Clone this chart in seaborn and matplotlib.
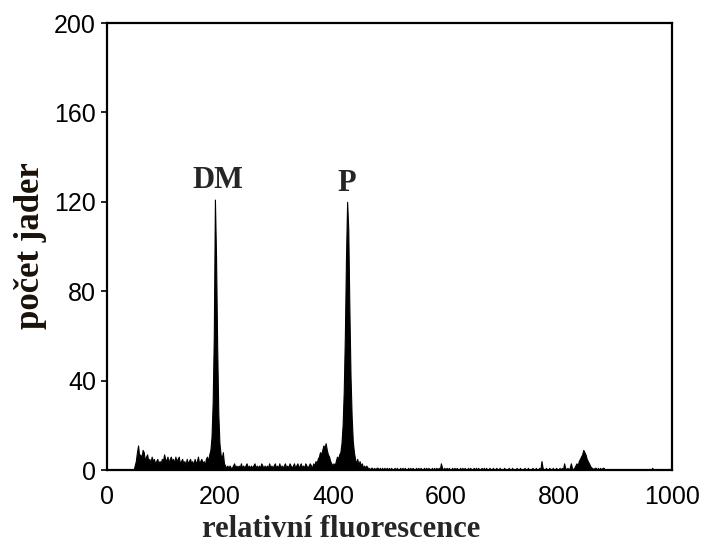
import numpy as np
import pandas as pd
import matplotlib
matplotlib.use("Agg")
import matplotlib.pyplot as plt
import seaborn as sns

# Nuclei counts per fluorescence channel (channel width 2), one row per 100 channels
counts_000 = [0, 0, 0, 0, 0, 0, 0, 0, 0, 0, 0, 0, 0, 0, 0, 0, 0, 0, 0, 0, 0, 0, 0, 0,
              2, 4, 8, 11, 6, 7, 5, 9, 8, 4, 6, 7, 4, 5, 3, 6, 4, 5, 3, 4, 5, 3, 4, 3, 5, 4]
counts_100 = [7, 5, 4, 6, 3, 5, 6, 4, 5, 3, 6, 4, 5, 6, 3, 4, 5, 3, 4, 2,
              5, 3, 4, 5, 3, 4, 2, 5, 3, 4, 6, 3, 4, 5, 3, 4, 2, 5, 6, 4,
              7, 9, 15, 30, 60, 121, 95, 55, 25, 12]
counts_200 = [7, 5, 8, 3, 2, 1, 2, 1, 2, 1, 1, 2, 3, 1, 2, 1, 2, 1, 3, 1,
              2, 1, 2, 3, 1, 2, 1, 2, 1, 2, 3, 1, 2, 1, 2, 1, 3, 2, 1, 2,
              1, 2, 1, 3, 1, 2, 1, 2, 3, 1]
counts_300 = [2, 1, 3, 1, 2, 1, 2, 3, 1, 2, 1, 3, 2, 1, 2, 3, 1, 2, 3, 1,
              2, 3, 1, 2, 1, 3, 2, 1, 2, 3, 2, 1, 3, 2, 4, 3, 5, 6, 8, 7,
              9, 11, 10, 12, 9, 7, 6, 4, 3, 2]
counts_400 = [3, 2, 4, 6, 5, 7, 8, 12, 20, 35, 60, 95, 120, 108, 72, 42, 24, 13, 8, 5,
              3, 5, 2, 4, 2, 3, 1, 2, 1, 2, 1, 1, 0, 1, 1, 0, 1, 0, 1, 1,
              0, 1, 0, 1, 0, 1, 0, 1, 0, 1]
counts_500 = [0, 1, 0, 0, 1, 0, 1, 0, 0, 1, 0, 1, 0, 1, 0, 0, 1, 0, 1, 0,
              1, 0, 0, 1, 0, 1, 0, 1, 0, 0, 1, 0, 1, 0, 1, 0, 0, 1, 0, 1,
              0, 1, 0, 1, 0, 3, 1, 0, 1, 0]
counts_600 = [1, 0, 1, 0, 0, 1, 0, 1, 0, 1, 0, 0, 1, 0, 1, 0, 1, 0, 0, 1,
              0, 1, 0, 0, 1, 0, 1, 0, 1, 0, 0, 1, 0, 1, 0, 1, 0, 0, 1, 0,
              0, 1, 0, 0, 1, 0, 0, 1, 0, 0]
counts_700 = [0, 1, 0, 0, 0, 1, 0, 0, 1, 0, 0, 0, 1, 0, 0, 1, 0, 0, 0, 1,
              0, 0, 1, 0, 0, 0, 1, 0, 0, 1, 0, 0, 1, 0, 4, 1, 0, 0, 1, 0,
              0, 1, 0, 0, 1, 0, 0, 1, 0, 0]
counts_800 = [1, 0, 1, 0, 3, 1, 0, 1, 0, 1, 3, 1, 0, 1, 2, 3, 2, 4, 5, 6,
              7, 9, 8, 7, 5, 4, 3, 2, 1, 1, 0, 1, 1, 0, 1, 0, 1, 0, 1, 1,
              0, 0, 0, 0, 0, 0, 0, 0, 0, 0]
counts_900 = [0, 0, 0, 0, 0, 0, 0, 0, 0, 0, 0, 0, 0, 0, 0, 0, 0, 0, 0, 0,
              0, 0, 0, 0, 0, 0, 0, 0, 0, 0, 0, 0, 1, 0, 0, 0, 0, 0, 0, 0,
              0, 0, 0, 0, 0, 0, 0, 0, 0, 0]

channel_width = 2
counts = (counts_000 + counts_100 + counts_200 + counts_300 + counts_400 +
          counts_500 + counts_600 + counts_700 + counts_800 + counts_900)
channels = np.arange(0, 1000, channel_width) + channel_width / 2

peak_labels = ["DM", "P"]
peak_positions = [191, 425]
peak_heights = [121, 120]

x_ticks = [0, 200, 400, 600, 800, 1000]
y_ticks = [0, 40, 80, 120, 160, 200]

df = pd.DataFrame({"fluorescence": channels, "count": counts})

sns.set_style("ticks")
plt.rcParams["font.family"] = ["Liberation Sans", "DejaVu Sans"]

fig = plt.figure(figsize=(7.12, 5.48), dpi=100)
ax = fig.add_axes([0.1503, 0.1423, 0.7935, 0.8157])

sns.histplot(data=df, x="fluorescence", weights="count",
             binwidth=channel_width, binrange=(0, 1000),
             element="poly", fill=True, color="black", alpha=1.0,
             linewidth=0.8, edgecolor="black", ax=ax)

ax.set_xlim(0, 1000)
ax.set_ylim(0, 200)
ax.set_xticks(x_ticks)
ax.set_yticks(y_ticks)
ax.tick_params(axis="x", length=0, pad=11, labelsize=18, colors="black")
ax.tick_params(axis="y", direction="out", length=4, width=1.2, pad=4,
               labelsize=18, colors="black")
for side in ["left", "right", "top", "bottom"]:
    ax.spines[side].set_visible(True)
    ax.spines[side].set_color("black")
    ax.spines[side].set_linewidth(1.6)

serif_bold = dict(family=["Liberation Serif", "DejaVu Serif"], fontweight="bold")
ax.set_xlabel("relativní fluorescence", fontsize=22, **serif_bold)
ax.set_ylabel("počet jader", fontsize=25, color="#1a1208", **serif_bold)
ax.xaxis.set_label_coords(0.414, -0.134)
ax.xaxis.label.set_verticalalignment("center")
ax.yaxis.set_label_coords(-0.136, 0.503)
ax.yaxis.label.set_verticalalignment("center")

label_offsets = [(2, 3), (0, 3)]
for label, xpos, height, offset in zip(peak_labels, peak_positions, peak_heights, label_offsets):
    ax.annotate(label, xy=(xpos, height), xytext=offset, textcoords="offset points",
                ha="center", va="bottom", fontsize=22, **serif_bold)

fig.savefig("out.png", dpi=100)
